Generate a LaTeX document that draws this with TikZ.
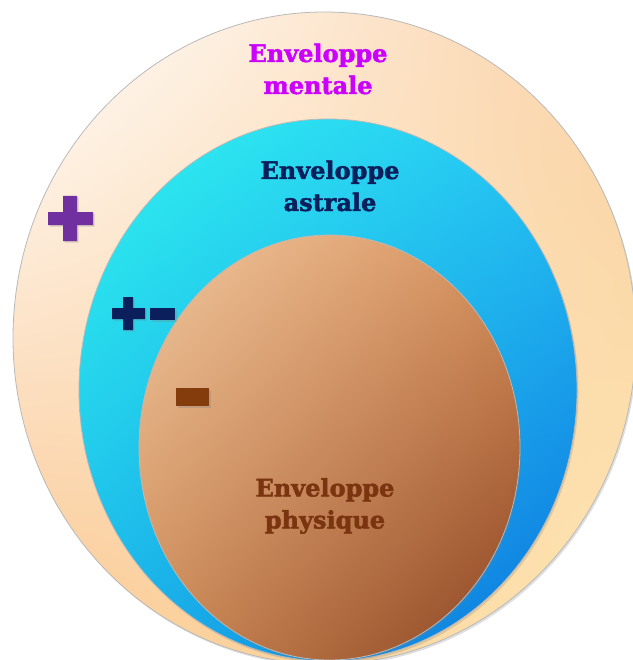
\documentclass[tikz,border=0pt]{standalone}
\usepackage{fontspec}
\setmainfont{DejaVu Serif}
\newfontfamily\slabfont[BoldFeatures={FakeBold=2}]{DejaVu Serif}
\usepackage{tikz}
\usetikzlibrary{shapes}
\usetikzlibrary{shadows,shadings}
\usetikzlibrary{positioning}
\usepackage{xcolor}

\definecolor{mentalcol}{HTML}{CC00FF}
\definecolor{astralcol}{HTML}{0A1F5C}
\definecolor{physcol}{HTML}{7A3510}
\definecolor{pluscol}{HTML}{7030A0}
\definecolor{minuscol}{HTML}{843C0C}
\definecolor{mentUL}{HTML}{FFFFFF}
\definecolor{mentUR}{HTML}{FAD0A4}
\definecolor{mentLL}{HTML}{FAC690}
\definecolor{mentLR}{HTML}{FDE6B0}
\definecolor{astUL}{HTML}{30F4EE}
\definecolor{astUR}{HTML}{26C4F4}
\definecolor{astLL}{HTML}{1AB4EA}
\definecolor{astLR}{HTML}{0A72DE}
\definecolor{phyUL}{HTML}{F0C8A0}
\definecolor{phyUR}{HTML}{D8915C}
\definecolor{phyLL}{HTML}{CE8A56}
\definecolor{phyLR}{HTML}{8A4220}

\begin{document}
\begin{tikzpicture}[x=1pt,y=-1pt]
                \tikzstyle{every node}=[inner sep=0pt]
                \tikzstyle{shell}=[ellipse, draw=gray!55, line width=0.8pt,
                    drop shadow={shadow xshift=1.5pt, shadow yshift=-2pt, opacity=0.25}]
                \tikzstyle{label}=[align=center, font=\slabfont\bfseries\fontsize{24}{32}\selectfont]
                \tikzstyle{bar}=[drop shadow={shadow xshift=1.5pt, shadow yshift=-1.5pt, opacity=0.3}]
                \useasboundingbox (0,0) rectangle (632,660);

                % the three envelopes
                \node[shell, minimum width=623pt, minimum height=652pt,
                    upper left=mentUL, upper right=mentUR, lower left=mentLL,
                    lower right=mentLR] (mental) at (324.5,338) {};
                \node[shell, minimum width=498pt, minimum height=542pt,
                    upper left=astUL, upper right=astUR, lower left=astLL,
                    lower right=astLR] (astral) at (328,390) {};
                \node[shell, minimum width=381pt, minimum height=425pt,
                    upper left=phyUL, upper right=phyUR, lower left=phyLL,
                    lower right=phyLR] (physique) at (329.5,447.5) {};

                % texts
                \node[label, text=mentalcol] (tmental) at (318,69) {Enveloppe\\mentale};
                \node[label, text=astralcol] (tastral) at (330,186) {Enveloppe\\astrale};
                \node[label, text=physcol] (tphys) at (325,506) {Enveloppe\\physique};

                % signs
                \fill[bar, pluscol] (63,196) -- (77,196) -- (77,212) -- (93,212) -- (93,225)
                    -- (77,225) -- (77,241) -- (63,241) -- (63,225) -- (48,225) -- (48,212)
                    -- (63,212) -- cycle;
                \fill[bar, astralcol] (123,297) -- (133,297) -- (133,308) -- (145,308) -- (145,319)
                    -- (133,319) -- (133,330) -- (123,330) -- (123,319) -- (112,319) -- (112,308)
                    -- (123,308) -- cycle;
                \fill[bar, astralcol] (150,308) rectangle (175,320);
                \fill[bar, minuscol] (176,388) rectangle (209,406);
            \end{tikzpicture}
\end{document}
